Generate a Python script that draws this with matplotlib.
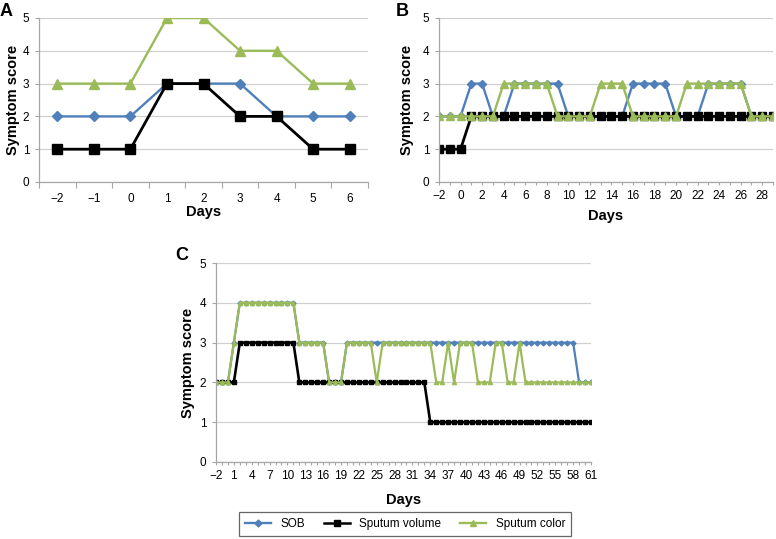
import matplotlib.pyplot as plt
from matplotlib.lines import Line2D
from matplotlib.ticker import MultipleLocator, FixedLocator

plt.rcParams['font.family'] = ['Liberation Sans', 'DejaVu Sans']

# panel A
days_a = [-2, -1, 0, 1, 2, 3, 4, 5, 6]
sob_a = [2, 2, 2, 3, 3, 3, 2, 2, 2]
vol_a = [1, 1, 1, 3, 3, 2, 2, 1, 1]
col_a = [3, 3, 3, 5, 5, 4, 4, 3, 3]

# panel B
days_b = list(range(-2, 30))
sob_b = [2, 2, 2, 3, 3, 2, 2, 3, 3, 3, 3, 3, 2, 2, 2, 2, 2, 2, 3, 3, 3, 3, 2, 2, 2, 3, 3, 3, 3, 2, 2, 2]
vol_b = [1, 1, 1, 2, 2, 2, 2, 2, 2, 2, 2, 2, 2, 2, 2, 2, 2, 2, 2, 2, 2, 2, 2, 2, 2, 2, 2, 2, 2, 2, 2, 2]
col_b = [2, 2, 2, 2, 2, 2, 3, 3, 3, 3, 3, 2, 2, 2, 2, 3, 3, 3, 2, 2, 2, 2, 2, 3, 3, 3, 3, 3, 3, 2, 2, 2]

# panel C
days_c = list(range(-2, 62))
sob_c = [2, 2, 2, 3, 4, 4, 4, 4, 4, 4, 4, 4, 4, 4, 3, 3, 3, 3, 3, 2, 2, 2,
         3, 3, 3, 3, 3, 3, 3, 3, 3, 3, 3, 3, 3, 3, 3, 3, 3, 3, 3, 3, 3, 3,
         3, 3, 3, 3, 3, 3, 3, 3, 3, 3, 3, 3, 3, 3, 3, 3, 3, 2, 2, 2]
vol_c = [2, 2, 2, 2, 3, 3, 3, 3, 3, 3, 3, 3, 3, 3, 2, 2, 2, 2, 2, 2, 2, 2,
         2, 2, 2, 2, 2, 2, 2, 2, 2, 2, 2, 2, 2, 2, 1, 1, 1, 1, 1, 1, 1, 1,
         1, 1, 1, 1, 1, 1, 1, 1, 1, 1, 1, 1, 1, 1, 1, 1, 1, 1, 1, 1]
col_c = [2, 2, 2, 3, 4, 4, 4, 4, 4, 4, 4, 4, 4, 4, 3, 3, 3, 3, 3, 2, 2, 2,
         3, 3, 3, 3, 3, 2, 3, 3, 3, 3, 3, 3, 3, 3, 3, 2, 2, 3, 2, 3, 3, 3,
         2, 2, 2, 3, 3, 2, 2, 3, 2, 2, 2, 2, 2, 2, 2, 2, 2, 2, 2, 2]

labels = ['SOB', 'Sputum volume', 'Sputum color']
blue = '#5080BA'
green = '#9BBB59'
black = '#000000'

W, H = 776, 539
fig = plt.figure(figsize=(W / 100, H / 100), dpi=100)


def make_ax(l, r, t, b):
    return fig.add_axes([l / W, 1 - b / H, (r - l) / W, (b - t) / H])


def style(ax):
    ax.set_ylim(0, 5)
    ax.set_yticks([0, 1, 2, 3, 4, 5])
    ax.grid(axis='y', color='#D0D0D0', linewidth=0.9)
    ax.set_axisbelow(True)
    for s in ['top', 'right']:
        ax.spines[s].set_visible(False)
    for s in ['left', 'bottom']:
        ax.spines[s].set_color('#A6A6A6')
        ax.spines[s].set_linewidth(0.9)
    ax.tick_params(axis='both', which='both', color='#A6A6A6', labelsize=8.5, width=0.8)
    ax.tick_params(axis='y', length=3, pad=4)
    ax.set_ylabel('Symptom score', fontsize=10.5, fontweight='bold')
    ax.set_xlabel('Days', fontsize=10.5, fontweight='bold')


def draw(ax, x, s, v, c, ms, lw=1.7):
    ax.plot(x, s, color=blue, lw=lw, marker='D', ms=ms[0], mfc=blue, mec=blue)
    ax.plot(x, v, color=black, lw=lw + 0.3, marker='s', ms=ms[1], mfc=black, mec=black)
    ax.plot(x, c, color=green, lw=lw, marker='^', ms=ms[2], mfc=green, mec=green)


# A
ax = make_ax(39, 368, 18, 182)
draw(ax, days_a, sob_a, vol_a, col_a, (5, 7.5, 6.5))
style(ax)
ax.set_xlim(-2.5, 6.5)
ax.set_xticks(days_a)
ax.xaxis.set_minor_locator(FixedLocator([d + 0.5 for d in days_a] + [-2.5]))
ax.tick_params(axis='x', which='major', length=0, pad=8)
ax.tick_params(axis='x', which='minor', length=4)
ax.yaxis.labelpad = 2
ax.xaxis.labelpad = 0
ax.text(-0.1, 1.04, 'A', transform=ax.transAxes, fontsize=13, fontweight='bold', ha='center', va='center')

# B
ax = make_ax(439, 773, 18, 182)
draw(ax, days_b, sob_b, vol_b, col_b, (4.5, 6, 5.5))
style(ax)
ax.set_xlim(-2, 29)
ax.xaxis.set_major_locator(MultipleLocator(2))
ax.xaxis.set_minor_locator(MultipleLocator(1))
ax.tick_params(axis='x', which='both', length=2.5, pad=3)
ax.yaxis.labelpad = 6
ax.xaxis.labelpad = 5
ax.text(-0.11, 1.04, 'B', transform=ax.transAxes, fontsize=13, fontweight='bold', ha='center', va='center')

# C
ax = make_ax(216, 591, 263, 462)
draw(ax, days_c, sob_c, vol_c, col_c, (2.5, 3, 3), lw=1.6)
style(ax)
ax.set_xlim(-2, 61)
ax.set_xticks(days_c[::3])
ax.xaxis.set_minor_locator(MultipleLocator(1))
ax.tick_params(axis='x', which='both', length=2.5, pad=3)
ax.yaxis.labelpad = 3
ax.xaxis.labelpad = 8
ax.text(-0.09, 1.04, 'C', transform=ax.transAxes, fontsize=13, fontweight='bold', ha='center', va='center')

handles = [
    Line2D([], [], color=blue, lw=1.7, marker='D', ms=3.5),
    Line2D([], [], color=black, lw=1.8, marker='s', ms=4.5),
    Line2D([], [], color=green, lw=1.7, marker='^', ms=4.5),
]
leg = fig.legend(handles, labels, loc='center', bbox_to_anchor=(405 / W, 1 - 524 / H), ncol=3,
                 fontsize=8.5, frameon=True, fancybox=False, edgecolor='#404040',
                 handlelength=2.2, columnspacing=1.6, borderpad=0.5)
leg.get_frame().set_linewidth(0.9)

fig.savefig('out.png', dpi=100)
